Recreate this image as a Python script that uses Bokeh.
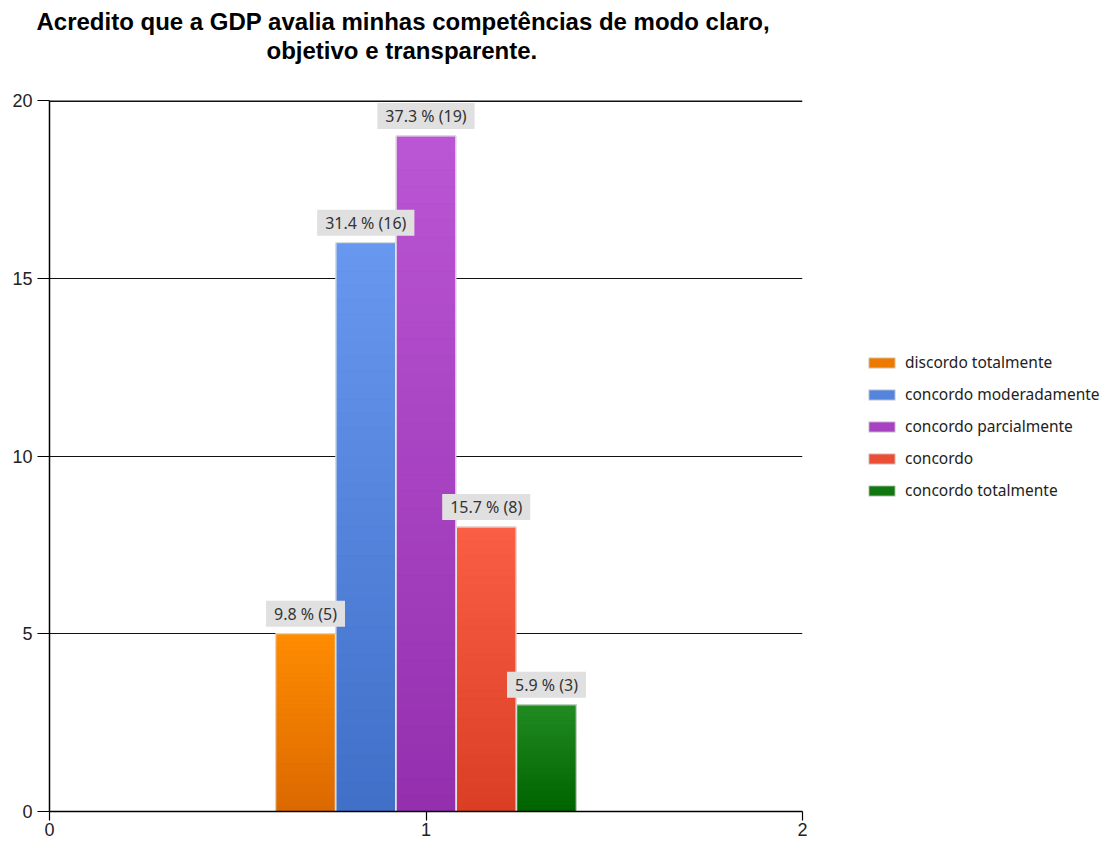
from bokeh.plotting import figure
from bokeh.models import Legend, LegendItem, Title, ColumnDataSource, FixedTicker, Range1d, Span
from bokeh.core.properties import value
from bokeh.embed import file_html
from bokeh.resources import INLINE

# ---- data ----
categories = ["discordo totalmente", "concordo moderadamente", "concordo parcialmente",
              "concordo", "concordo totalmente"]
counts = [5, 16, 19, 8, 3]
percents = [9.8, 31.4, 37.3, 15.7, 5.9]
group_x = 1
y_ticks = [0, 5, 10, 15, 20]
x_ticks = [0, 1, 2]
title_lines = ["Acredito que a GDP avalia minhas competências de modo claro,",
               "objetivo e transparente."]

# ---- styles ----
top_colors = ["#FF8C00", "#6797EE", "#BA55D3", "#FA5F45", "#228B22"]
bottom_colors = ["#DB6900", "#4070C8", "#9430AE", "#DA3F25", "#006400"]
bar_w = 0.158
n = len(categories)
xs = [group_x + (i - (n - 1) / 2) * 0.16 for i in range(n)]
labels = [f"{p} % ({c})" for p, c in zip(percents, counts)]


def hex_to_rgb(h):
    h = h.lstrip("#")
    return tuple(int(h[k:k + 2], 16) for k in (0, 2, 4))


def mix(c1, c2, t):
    a, b = hex_to_rgb(c1), hex_to_rgb(c2)
    return "#%02x%02x%02x" % tuple(round(a[k] + (b[k] - a[k]) * t) for k in range(3))


mid_colors = [mix(b, t, 0.5) for b, t in zip(bottom_colors, top_colors)]

src = ColumnDataSource(dict(x=xs, top=counts, color=mid_colors, label=labels, cat=categories))

p = figure(frame_width=753, frame_height=711, min_border_left=49, min_border_right=288,
           min_border_top=100, min_border_bottom=24,
           x_range=Range1d(0, 2), y_range=Range1d(0, 20),
           output_backend="svg", toolbar_location=None, background_fill_color="white",
           border_fill_color="white")
p.outline_line_color = None

p.xgrid.grid_line_color = None
p.ygrid.ticker = FixedTicker(ticks=y_ticks)
p.ygrid.grid_line_color = "#111111"
p.ygrid.grid_line_width = 1.2
p.add_layout(Span(location=y_ticks[-1], dimension="width", line_color="#111111", line_width=3))

# base bars (used for legend swatches)
r = p.vbar(x="x", top="top", bottom=0, width=bar_w, fill_color="color",
           line_color="#DDDDDD", line_width=1, source=src)

# vertical gradient: stacked slices of each bar, coloured bottom -> top
N = 40
gx, gb, gt, gc = [], [], [], []
for i in range(n):
    for k in range(N):
        gx.append(xs[i])
        gb.append(counts[i] * k / N)
        gt.append(counts[i] * (k + 1) / N)
        gc.append(mix(bottom_colors[i], top_colors[i], (k + 0.5) / N))
p.vbar(x=gx, bottom=gb, top=gt, width=bar_w, fill_color=gc, line_color=gc, line_width=0.6)
# light outline on top
p.vbar(x="x", top="top", bottom=0, width=bar_w, fill_color=None,
       line_color="#E4E4E4", line_width=1, source=src)

p.text(x="x", y="top", text="label", text_align="center", text_baseline="bottom",
       y_offset=-7, text_font=value("Noto Sans"), text_font_size="16px",
       text_color="#333333", background_fill_color="#E0E0E0", padding=(8, 2), source=src)

# axes
for ax in (p.xaxis[0], p.yaxis[0]):
    ax.axis_line_color = "black"
    ax.axis_line_width = 1.5
    ax.major_tick_line_color = "black"
    ax.major_tick_line_width = 1.2
    ax.major_tick_in = 0
    ax.minor_tick_line_color = None
    ax.major_label_text_font = "Liberation Sans"
    ax.major_label_text_font_size = "18px"
    ax.major_label_text_color = "#222222"
p.yaxis.major_tick_out = 12
p.yaxis.major_label_standoff = 5
p.xaxis.major_tick_out = 9
p.xaxis.major_label_standoff = 2
p.xaxis.ticker = FixedTicker(ticks=x_ticks)
p.yaxis.ticker = FixedTicker(ticks=y_ticks)

# title: spacer nearest the frame, then line 2, then line 1
spacer = Title(text=" ", text_font_size="10px", standoff=24)
t2 = Title(text=title_lines[1], align="left", offset=217, text_font="Liberation Sans",
           text_font_size="24px", text_font_style="bold", text_color="black", standoff=0)
t1 = Title(text=title_lines[0], align="left", offset=-13, text_font="Liberation Sans",
           text_font_size="24px", text_font_style="bold", text_color="black", standoff=0)
p.add_layout(spacer, "above")
p.add_layout(t2, "above")
p.add_layout(t1, "above")

items = [LegendItem(label=c, renderers=[r], index=i) for i, c in enumerate(categories)]
legend = Legend(items=items, location=(63, 310), orientation="vertical",
                glyph_width=33, glyph_height=13, label_height=13, spacing=10,
                padding=0, margin=0, border_line_color=None, background_fill_alpha=0,
                label_text_font="Noto Sans", label_text_font_size="15.5px",
                label_text_color="#222222", label_standoff=7)
p.add_layout(legend, "right")

open("out.html", "w").write(file_html(p, INLINE))
